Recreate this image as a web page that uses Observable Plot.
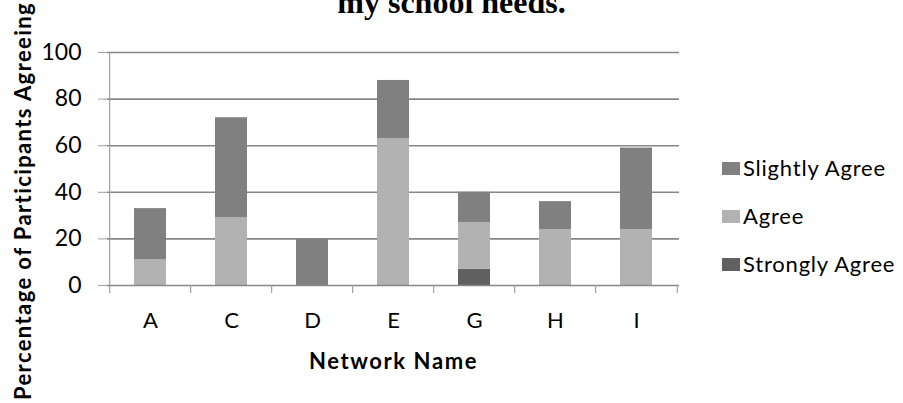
<!DOCTYPE html>
<html><head><meta charset="utf-8">
<script src="https://cdn.jsdelivr.net/npm/d3@7"></script>
<script src="https://cdn.jsdelivr.net/npm/@observablehq/plot@0.6"></script>
<style>
body{margin:0;background:#fff;}
#wrap{position:relative;width:903px;height:403px;overflow:hidden;background:#fff;}
#wrap svg{position:absolute;left:0;top:0;}
#title{position:absolute;left:0;top:-14px;width:903px;text-align:center;font-family:"Liberation Serif","Times New Roman",serif;font-weight:bold;font-size:32px;line-height:32px;color:#000;white-space:nowrap;}
#legend{position:absolute;left:722px;top:144px;font-family:Lato,sans-serif;font-size:22px;color:#000;}
#legend .row{display:flex;align-items:center;height:48px;line-height:48px;white-space:nowrap;letter-spacing:0.8px;}
#legend .sw{width:18px;height:13px;margin-right:3px;flex:none;}
.ylab{letter-spacing:1.4px;}
.xlab{letter-spacing:1.6px;}
</style></head><body><div id="wrap"></div>
<script>
const categories = ["A","C","D","E","G","H","I"];
const stronglyAgree = [0,0,0,0,7,0,0];
const agree = [11,29,0,63,20,24,24];
const slightlyAgree = [22,43,20,25,13,12,35];
const yTicks = [0,20,40,60,80,100];
const seriesNames = ["Strongly Agree","Agree","Slightly Agree"];
const seriesColors = ["#606060","#b2b2b2","#808080"];
const legendOrder = ["Slightly Agree","Agree","Strongly Agree"];
const titleText = "my school needs.";
const xLabel = "Network Name";
const yLabel = "Percentage of Participants Agreeing";

const seriesValues = [stronglyAgree, agree, slightlyAgree];
const data = seriesNames.flatMap((s, si) => categories.map((c, ci) => ({network: c, response: s, value: seriesValues[si][ci]})));

const W = 903, H = 403, mL = 107, mR = 224, mT = 52, mB = 118;
const halfStep = (W - mL - mR) / categories.length / 2;
const gridColor = "#878787";

const chart = Plot.plot({
  width: W, height: H, marginLeft: mL, marginRight: mR, marginTop: mT, marginBottom: mB,
  style: {fontFamily: "Lato, sans-serif", fontSize: "22px", color: "#000", background: "transparent", overflow: "visible"},
  x: {domain: categories, paddingInner: 0.6, paddingOuter: 0.3, label: null},
  y: {domain: [0, 100], label: null},
  color: {domain: seriesNames, range: seriesColors},
  marks: [
    Plot.ruleY(yTicks.slice(1), {stroke: gridColor, strokeWidth: 1.6}),
    Plot.barY(data, {x: "network", y: "value", fill: "response"}),
    Plot.ruleY([0], {stroke: gridColor, strokeWidth: 1.4}),
    Plot.ruleX([categories[0]], {y1: 0, y2: 100, dx: -halfStep, stroke: "#a0a0a0", strokeWidth: 1.2}),
    Plot.ruleX(categories, {x: d => d, y1: 0, y2: 0, insetBottom: -8, dx: -halfStep, stroke: "#a0a0a0", strokeWidth: 1.2}),
    Plot.ruleX([categories[categories.length - 1]], {x: d => d, y1: 0, y2: 0, insetBottom: -8, dx: halfStep, stroke: "#a0a0a0", strokeWidth: 1.2}),
    Plot.axisY({ticks: yTicks, tickSize: 9, tickPadding: 17, stroke: "#a0a0a0", fill: "#000", label: null, fontSize: 23}),
    Plot.axisX({tickSize: 0, tickPadding: 27, fill: "#000", label: null, fontSize: 22}),
    Plot.text([xLabel], {text: d => d, frameAnchor: "bottom", dy: 76, lineAnchor: "middle", textAnchor: "middle", fontWeight: "bold", fontSize: 22, fill: "#000", className: "xlab"}),
    Plot.text([yLabel], {text: d => d, frameAnchor: "left", rotate: -90, dx: -84, dy: 32, lineAnchor: "middle", textAnchor: "middle", fontWeight: "bold", fontSize: 22, fill: "#000", className: "ylab"})
  ]
});

const wrap = document.getElementById("wrap");
wrap.appendChild(chart);

const title = document.createElement("div");
title.id = "title";
title.textContent = titleText;
wrap.appendChild(title);

const legend = document.createElement("div");
legend.id = "legend";
for (const name of legendOrder) {
  const row = document.createElement("div");
  row.className = "row";
  const sw = document.createElement("span");
  sw.className = "sw";
  sw.style.background = seriesColors[seriesNames.indexOf(name)];
  const label = document.createElement("span");
  label.textContent = name;
  row.appendChild(sw);
  row.appendChild(label);
  legend.appendChild(row);
}
wrap.appendChild(legend);
</script></body></html>
